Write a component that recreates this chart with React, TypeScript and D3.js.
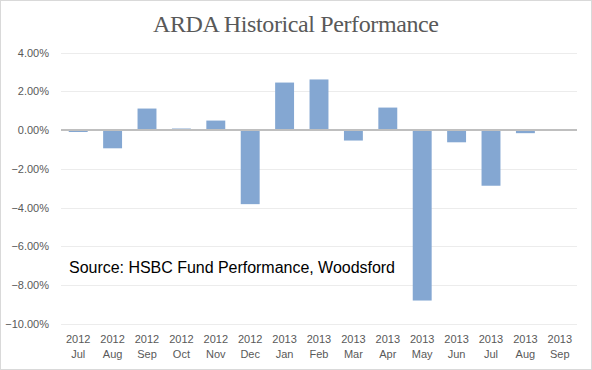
import React, { useEffect, useRef } from "react";
import * as d3 from "d3";

const years = ["2012", "2012", "2012", "2012", "2012", "2012", "2013", "2013", "2013", "2013", "2013", "2013", "2013", "2013", "2013"];
const months = ["Jul", "Aug", "Sep", "Oct", "Nov", "Dec", "Jan", "Feb", "Mar", "Apr", "May", "Jun", "Jul", "Aug", "Sep"];
const returns = [-0.1, -0.94, 1.11, 0.08, 0.49, -3.82, 2.45, 2.61, -0.54, 1.16, -8.79, -0.63, -2.87, -0.16, 0];
const yTicks = [4, 2, 0, -2, -4, -6, -8, -10];

const W = 592, H = 370;

const App = () => {
  const svgRef = useRef<SVGSVGElement>(null);

  useEffect(() => {
    const svg = d3.select(svgRef.current);
    svg.selectAll("*").remove();

    const left = 61, right = 577, top = 52.5, bottom = 324;
    const keys = months.map((m, i) => i);

    const x = d3.scaleBand<number>().domain(keys).range([left, right]).paddingInner(0.45).paddingOuter(0.225);
    const y = d3.scaleLinear().domain([-10, 4]).range([bottom, top]);

    // frame
    svg.append("rect")
      .attr("x", 0.5).attr("y", 0.5)
      .attr("width", W - 1).attr("height", H - 1)
      .attr("fill", "#fff").attr("stroke", "#d9d9d9");

    svg.append("text")
      .attr("x", W / 2).attr("y", 32)
      .attr("text-anchor", "middle")
      .attr("font-family", "'Liberation Serif', serif")
      .attr("font-size", 24)
      .attr("fill", "#595959")
      .attr("textLength", 286)
      .text("ARDA Historical Performance");

    // gridlines
    svg.append("g").selectAll("line").data(yTicks.filter(t => t !== 0)).join("line")
      .attr("x1", left).attr("x2", right)
      .attr("y1", d => Math.round(y(d)) + 0.5).attr("y2", d => Math.round(y(d)) + 0.5)
      .attr("stroke", "#ececec");

    svg.append("g").selectAll("text").data(yTicks).join("text")
      .attr("x", 49).attr("y", d => y(d) + 4)
      .attr("text-anchor", "end")
      .attr("font-family", "'Liberation Sans', sans-serif")
      .attr("font-size", 11)
      .attr("fill", "#595959")
      .text(d => d3.format(".2f")(d) + "%");

    svg.append("g").selectAll("rect").data(returns).join("rect")
      .attr("x", (d, i) => x(i)!)
      .attr("width", x.bandwidth())
      .attr("y", d => y(Math.max(0, d)))
      .attr("height", d => Math.abs(y(d) - y(0)))
      .attr("fill", "#84a7d2");

    svg.append("line")
      .attr("x1", left).attr("x2", right)
      .attr("y1", y(0)).attr("y2", y(0))
      .attr("stroke", "#bfbfbf").attr("stroke-width", 2);

    const labels = svg.append("g")
      .attr("font-family", "'Liberation Sans', sans-serif")
      .attr("font-size", 11)
      .attr("fill", "#595959")
      .attr("text-anchor", "middle");
    labels.selectAll("text.yr").data(years).join("text")
      .attr("class", "yr")
      .attr("x", (d, i) => x(i)! + x.bandwidth() / 2)
      .attr("y", 343)
      .text(d => d);
    labels.selectAll("text.mo").data(months).join("text")
      .attr("class", "mo")
      .attr("x", (d, i) => x(i)! + x.bandwidth() / 2)
      .attr("y", 358)
      .text(d => d);

    svg.append("text")
      .attr("x", 69).attr("y", 273)
      .attr("font-family", "'Liberation Sans', sans-serif")
      .attr("font-size", 16)
      .attr("fill", "#000")
      .attr("textLength", 326)
      .text("Source: HSBC Fund Performance, Woodsford");
  }, []);

  return (
    <div style={{ position: "absolute", left: 0, top: 0 }}>
      <svg ref={svgRef} width={W} height={H} style={{ display: "block" }}></svg>
    </div>
  );
};

export default App;
